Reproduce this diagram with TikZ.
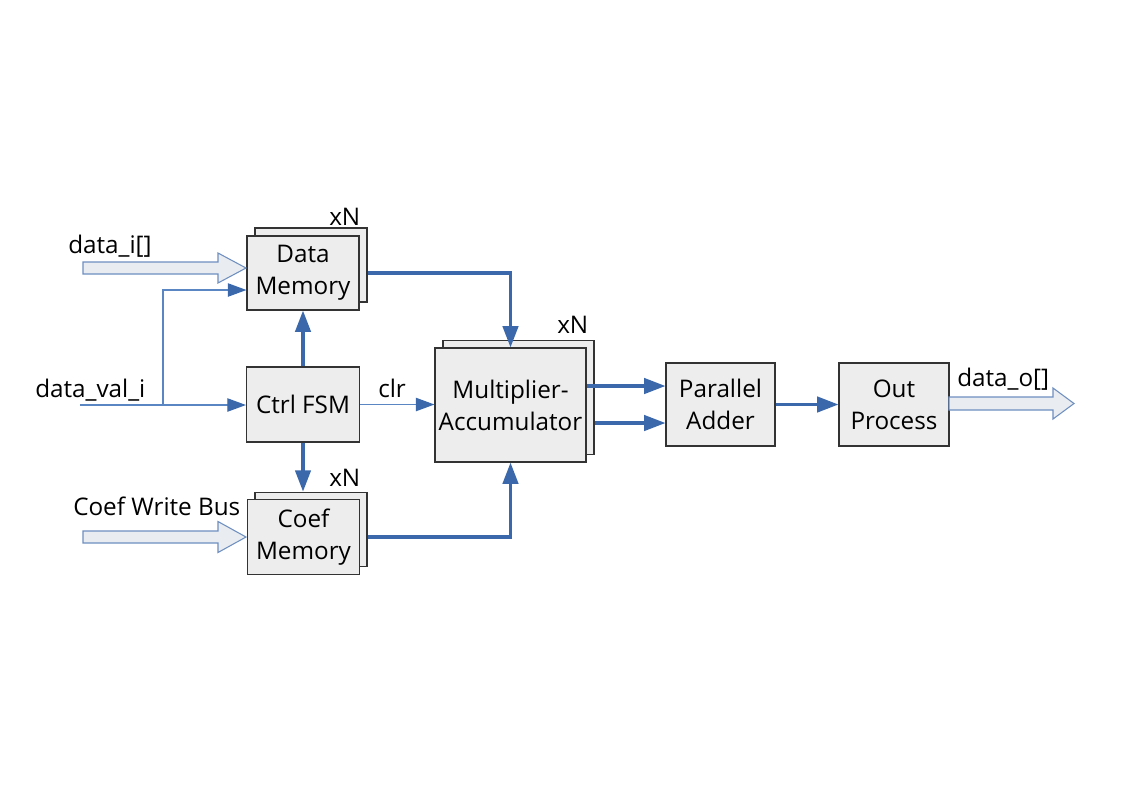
\documentclass[tikz,border=0pt]{standalone}
\usepackage{fontspec}
\setmainfont{Open Sans}
\usetikzlibrary{arrows.meta,calc}
\definecolor{thickblue}{HTML}{3A68AA}
\definecolor{thinblue}{HTML}{5A86C4}
\definecolor{boxfill}{HTML}{EDEDED}
\definecolor{hollowfill}{HTML}{E9ECF1}
\definecolor{hollowline}{HTML}{6E8FC0}
\begin{document}
\begin{tikzpicture}[x=0.75pt,y=-0.75pt,
  txt/.style={font=\fontsize{18.2}{24}\selectfont},
  blk/.style={draw=black!80,fill=boxfill,line width=0.8pt,align=center,inner sep=0pt,txt},
  backblk/.style={draw=black!80,fill=boxfill,line width=0.8pt,inner sep=0pt},
  lbl/.style={inner sep=0pt,anchor=base west,txt},
  thickarr/.style={draw=thickblue,line width=2.5pt,-{Triangle[length=16pt,width=11.5pt,color=thickblue]}},
  thinarr/.style={draw=thinblue,line width=1pt,-{Triangle[length=14pt,width=10pt,color=thickblue]}},
  hollow/.style={draw=hollowline,fill=hollowfill,line width=0.8pt,line join=miter}
]
\useasboundingbox (0,0) rectangle (1123,794);

% Data memory
\node[backblk,minimum width=84pt,minimum height=55.5pt] (dmb) at (311,265) {};
\node[blk,minimum width=84pt,minimum height=55.5pt] (dm) at (303,273) {Data\\Memory};
% Coef memory
\node[backblk,minimum width=84pt,minimum height=56pt] (cmb) at (311,529.5) {};
\node[blk,minimum width=84pt,minimum height=56pt] (cm) at (303.5,537) {Coef\\Memory};
% Ctrl FSM
\node[blk,minimum width=84.75pt,minimum height=56.25pt] (ctrl) at (303,404.5) {Ctrl FSM};
% MAC
\node[backblk,minimum width=113.25pt,minimum height=85.5pt] (macb) at (518.5,397.5) {};
\node[blk,minimum width=113.25pt,minimum height=85.5pt] (mac) at (510.5,405) {Multiplier-\\Accumulator};
% Parallel adder
\node[blk,minimum width=81.75pt,minimum height=62.25pt] (pa) at (720.5,404.5) {Parallel\\Adder};
% Out process
\node[blk,minimum width=82.5pt,minimum height=62.25pt] (op) at (894,404.5) {Out\\Process};

% labels
\node[lbl] (l1) at (68,253) {data\_i[]};
\node[lbl] (l2) at (35,397) {data\_val\_i};
\node[lbl] (l3) at (378,397) {clr};
\node[lbl] (l4) at (73,515) {Coef Write Bus};
\node[lbl] (x1) at (329,225) {xN};
\node[lbl] (x2) at (329,486) {xN};
\node[lbl] (x3) at (557,333) {xN};
\node[lbl] (l5) at (957,386) {data\_o[]};

% hollow bus arrows
\draw[hollow] (83,262) -- (218,262) -- (218,253) -- (246,268) -- (218,283) -- (218,274) -- (83,274) -- cycle;
\draw[hollow] (83,531) -- (218,531) -- (218,521.5) -- (246,537) -- (218,552.5) -- (218,543) -- (83,543) -- cycle;
\draw[hollow] (949,397) -- (1053,397) -- (1053,388) -- (1074,403.5) -- (1053,419) -- (1053,410) -- (949,410) -- cycle;

% data_val_i
\coordinate (dvi) at (80,405);
\coordinate (br) at (163,405);
\coordinate (dmin) at ([yshift=-12.75pt]dm.west);
\draw[thinarr] (dvi) -- (dvi -| ctrl.west);
\draw[thinarr] (br) |- (dmin);
% clr
\draw[thinarr] (ctrl.east) -- (ctrl.east -| mac.west);

% ctrl to memories
\draw[thickarr] (ctrl.north) -- (dm.south);
\draw[thickarr] (ctrl.south) -- (ctrl.south |- cmb.north);

% memories to MAC
\coordinate (dmo) at (dm.east -| dmb.east);
\coordinate (cmo) at (cm.east -| cmb.east);
\draw[thickarr] (dmo) -| (mac.north);
\draw[thickarr] (cmo) -| (mac.south);

% MAC to adder
\coordinate (m1) at ([yshift=14.25pt]mac.east);
\coordinate (m2a) at ([yshift=-13.5pt]mac.east);
\coordinate (m2) at (m2a -| macb.east);
\draw[thickarr] (m1) -- (m1 -| pa.west);
\draw[thickarr] (m2) -- (m2 -| pa.west);
% adder to out
\draw[thickarr] (pa.east) -- (pa.east -| op.west);
\end{tikzpicture}
\end{document}
